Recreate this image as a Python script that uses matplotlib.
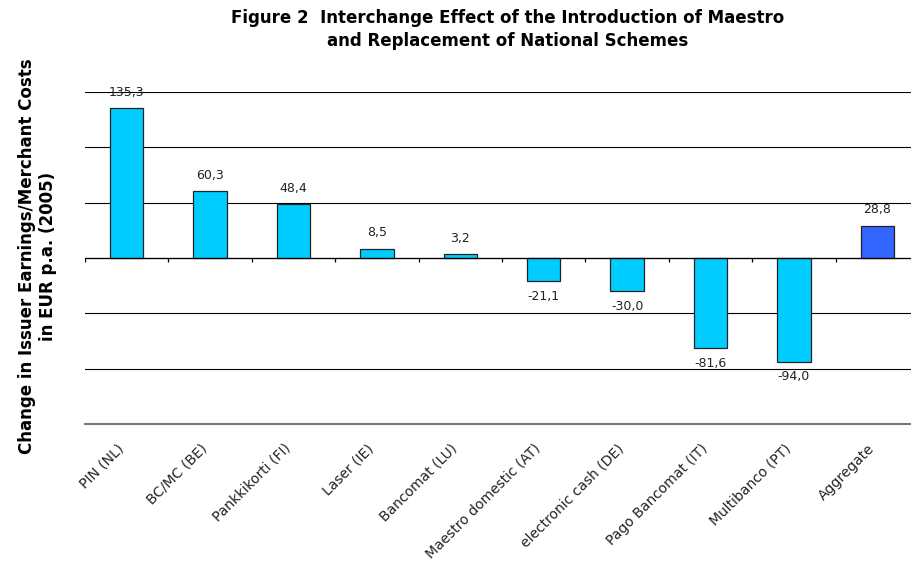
import numpy as np
import matplotlib.pyplot as plt
import matplotlib.transforms as mtransforms

# data
schemes = ['PIN (NL)', 'BC/MC (BE)', 'Pankkikorti (FI)', 'Laser (IE)', 'Bancomat (LU)',
           'Maestro domestic (AT)', 'electronic cash (DE)', 'Pago Bancomat (IT)',
           'Multibanco (PT)', 'Aggregate']
values = [135.3, 60.3, 48.4, 8.5, 3.2, -21.1, -30.0, -81.6, -94.0, 28.8]
bar_colors = ['#00CCFF'] * 9 + ['#3366FF']

plt.rcParams['font.family'] = ['DejaVu Sans']

fig = plt.figure(figsize=(9.11, 5.69), dpi=100)
ax = fig.add_axes([85 / 911, 1 - 424 / 569, 834 / 911, 332 / 569])

x = np.arange(len(schemes))
ax.bar(x, values, width=0.4, color=bar_colors, edgecolor='#222222', linewidth=0.9, zorder=3)

ax.set_xlim(-0.5, len(schemes) - 0.5)
ax.set_ylim(-150, 150)
ax.set_yticks([-100, -50, 0, 50, 100, 150])
ax.yaxis.grid(True, color='black', linewidth=0.8)
ax.tick_params(axis='y', length=0, labelleft=False)
ax.axhline(0, color='black', linewidth=0.9, zorder=4)
# small tick marks on the zero line between categories
ax.vlines(np.arange(len(schemes) + 1) - 0.5, -3.5, 0, color='black', linewidth=0.9, zorder=4)

for s in ['top', 'right', 'left']:
    ax.spines[s].set_visible(False)
ax.spines['bottom'].set_color('#777777')
ax.spines['bottom'].set_linewidth(1.5)

ax.set_xticks(x)
ax.set_xticklabels(schemes, rotation=45, ha='right', va='center', rotation_mode='anchor',
                   fontsize=10, color='#222222')
ax.tick_params(axis='x', length=0, pad=16)
shift = mtransforms.ScaledTranslation(-5 / 100, 0, fig.dpi_scale_trans)
for lbl in ax.get_xticklabels():
    lbl.set_transform(lbl.get_transform() + shift)

for xi, v in zip(x, values):
    lab = f'{v:.1f}'.replace('.', ',')
    if v >= 0:
        ax.annotate(lab, (xi, v), xytext=(0, 7), textcoords='offset points',
                    ha='center', va='bottom', fontsize=9, color='#222222')
    else:
        ax.annotate(lab, (xi, v), xytext=(0, -6), textcoords='offset points',
                    ha='center', va='top', fontsize=9, color='#222222')

fig.text(0.557, 0.985, 'Figure 2  Interchange Effect of the Introduction of Maestro\nand Replacement of National Schemes',
         ha='center', va='top', fontsize=12, fontweight='bold', linespacing=1.4)
fig.text(0.041, 0.55, 'Change in Issuer Earnings/Merchant Costs\nin EUR p.a. (2005)',
         ha='center', va='center', rotation=90, fontsize=12, fontweight='bold', linespacing=1.25)

fig.savefig('out.png', dpi=100)
